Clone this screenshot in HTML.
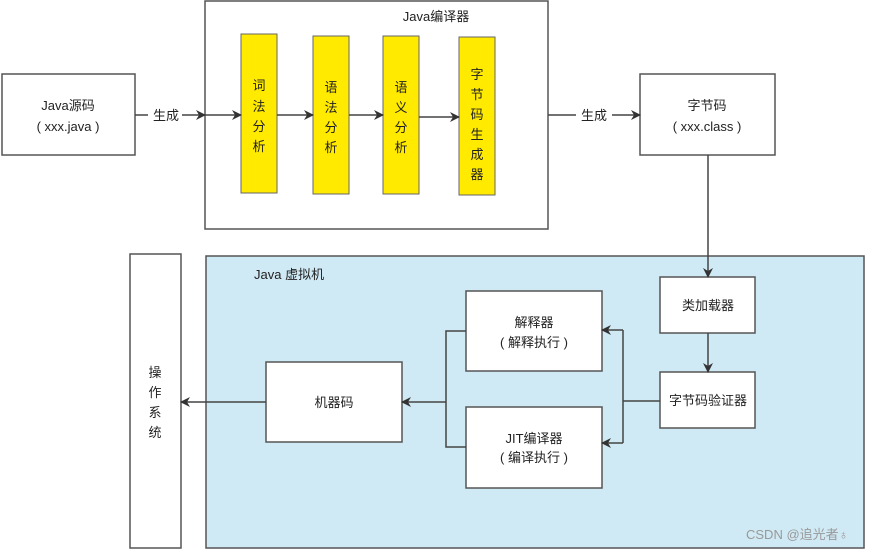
<!DOCTYPE html>
<html><head><meta charset="utf-8"><style>
body{margin:0;width:875px;height:551px;background:#fff;font-family:"Liberation Sans","Noto Sans CJK SC",sans-serif;overflow:hidden}
svg text{font-family:"Liberation Sans","Noto Sans CJK SC",sans-serif;font-size:13px;fill:#222}
</style></head><body>
<svg width="875" height="551" viewBox="0 0 875 551">
<defs><marker id="a" markerWidth="10" markerHeight="10" refX="9" refY="5" orient="auto" markerUnits="userSpaceOnUse"><path d="M0,0 L10,5 L0,10 L3,5z" fill="#333"/></marker></defs>
<g stroke="#555" stroke-width="1.5" fill="#fff">
<rect x="2" y="74" width="133" height="81"/>
<rect x="205" y="1" width="343" height="228"/>
<rect x="640" y="74" width="135" height="81"/>
<rect x="206" y="256" width="658" height="292" fill="#d0eaf5"/>
<rect x="130" y="254" width="51" height="294"/>
<rect x="660" y="277" width="95" height="56"/>
<rect x="660" y="372" width="95" height="56"/>
<rect x="466" y="291" width="136" height="80"/>
<rect x="466" y="407" width="136" height="81"/>
<rect x="266" y="362" width="136" height="80"/>
</g>
<g fill="#ffea00" stroke="#666" stroke-width="1">
<rect x="241" y="34" width="36" height="159"/>
<rect x="313" y="36" width="36" height="158"/>
<rect x="383" y="36" width="36" height="158"/>
<rect x="459" y="37" width="36" height="158"/>
</g>
<g stroke="#444" stroke-width="1.5" fill="none">
<line x1="135" y1="115" x2="148" y2="115"/>
<line x1="182" y1="115" x2="205" y2="115" marker-end="url(#a)"/>
<line x1="205" y1="115" x2="241" y2="115" marker-end="url(#a)"/>
<line x1="277" y1="115" x2="313" y2="115" marker-end="url(#a)"/>
<line x1="349" y1="115" x2="383" y2="115" marker-end="url(#a)"/>
<line x1="419" y1="117" x2="459" y2="117" marker-end="url(#a)"/>
<line x1="548" y1="115" x2="576" y2="115"/>
<line x1="612" y1="115" x2="640" y2="115" marker-end="url(#a)"/>
<line x1="708" y1="155" x2="708" y2="277" marker-end="url(#a)"/>
<line x1="708" y1="333" x2="708" y2="372" marker-end="url(#a)"/>
<polyline points="660,401 623,401"/>
<polyline points="623,330 623,443"/>
<line x1="623" y1="330" x2="602" y2="330" marker-end="url(#a)"/>
<line x1="623" y1="443" x2="602" y2="443" marker-end="url(#a)"/>
<polyline points="466,331 446,331 446,447 466,447"/>
<line x1="446" y1="402" x2="402" y2="402" marker-end="url(#a)"/>
<line x1="266" y1="402" x2="181" y2="402" marker-end="url(#a)"/>
</g>
<g text-anchor="middle">
<text x="68" y="110">Java源码</text><text x="68" y="131">( xxx.java )</text>
<text x="166" y="120">生成</text>
<text x="594" y="120">生成</text>
<text x="436" y="21">Java编译器</text>
<text x="707" y="110">字节码</text><text x="707" y="131">( xxx.class )</text>
<text x="259" y="90">词</text><text x="259" y="111">法</text><text x="259" y="131">分</text><text x="259" y="151">析</text>
<text x="331" y="92">语</text><text x="331" y="112">法</text><text x="331" y="132">分</text><text x="331" y="152">析</text>
<text x="401" y="92">语</text><text x="401" y="112">义</text><text x="401" y="132">分</text><text x="401" y="152">析</text>
<text x="477" y="79">字</text><text x="477" y="99">节</text><text x="477" y="119">码</text><text x="477" y="139">生</text><text x="477" y="159">成</text><text x="477" y="179">器</text>
<text x="708" y="310">类加载器</text>
<text x="708" y="405">字节码验证器</text>
<text x="534" y="327">解释器</text><text x="534" y="347">( 解释执行 )</text>
<text x="534" y="443">JIT编译器</text><text x="534" y="462">( 编译执行 )</text>
<text x="334" y="407">机器码</text>
<text x="155" y="377">操</text><text x="155" y="397">作</text><text x="155" y="417">系</text><text x="155" y="437">统</text>
</g>
<text x="254" y="279">Java 虚拟机</text>
<text x="746" y="539" style="fill:#999;font-size:13px">CSDN @追光者♁</text>
</svg>
</body></html>
